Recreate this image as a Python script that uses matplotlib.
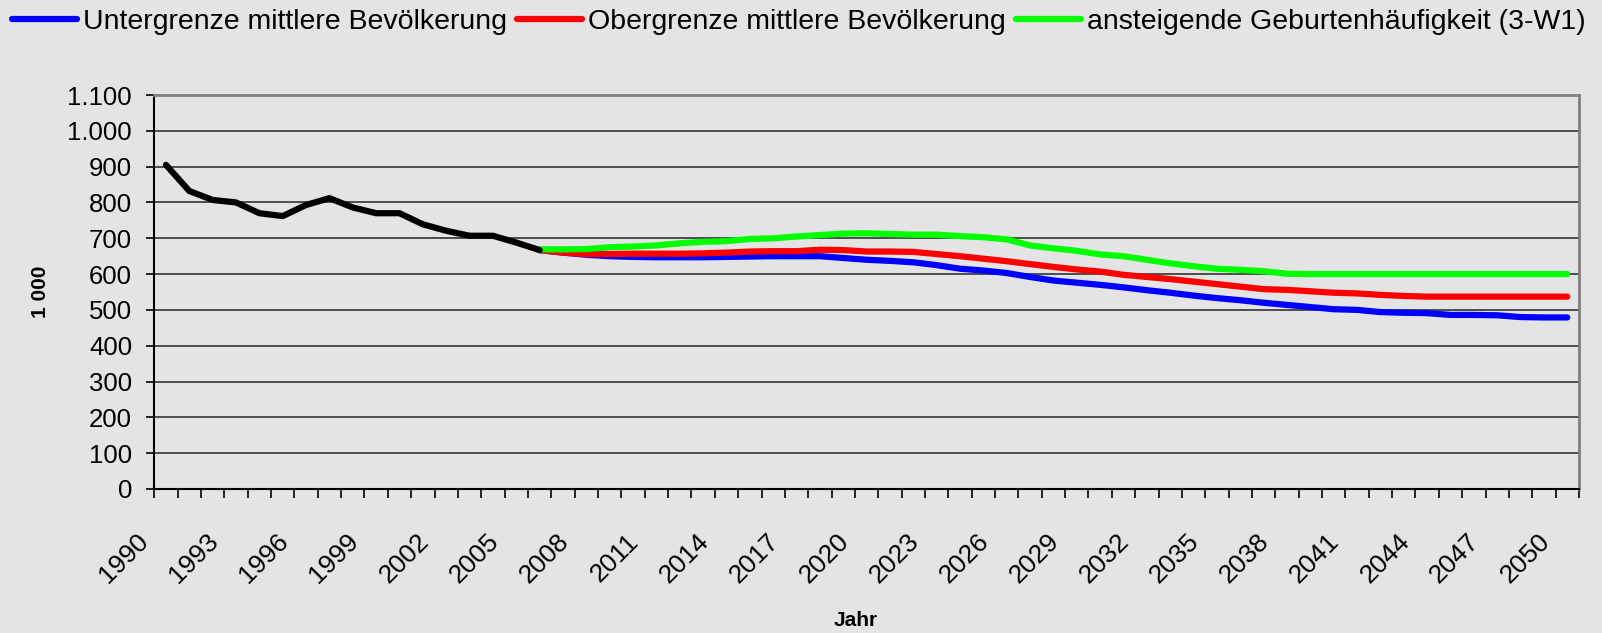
import matplotlib.pyplot as plt
import matplotlib.transforms as mtransforms
import numpy as np

plt.rcParams['font.family'] = ['Liberation Sans', 'DejaVu Sans']

# categories
years = list(range(1990, 2051))
hist_years = years[:17]          # 1990-2006
proj_years = years[16:]          # 2006-2050

# values in 1000
hist = [905, 832, 807, 800, 770, 762, 793, 812, 786, 770, 770, 739, 721,
        707, 707, 688, 667]

lower = [667, 660, 654, 650, 648, 647, 647, 647, 648, 649, 650, 650, 650,
         645, 640, 637, 633, 625, 615, 610, 603, 592, 582, 576, 570, 563,
         555, 548, 540, 533, 527, 520, 514, 508, 502, 500, 494, 492, 491,
         486, 486, 485, 480, 479, 479]

upper = [667, 660, 656, 656, 657, 657, 657, 658, 660, 663, 664, 664, 668,
         667, 663, 663, 662, 656, 650, 643, 636, 628, 620, 613, 607, 598,
         592, 586, 579, 572, 565, 558, 556, 552, 548, 546, 542, 539, 537,
         537, 537, 537, 537, 537, 537]

rising = [669, 669, 670, 675, 677, 680, 686, 690, 692, 698, 700, 705, 709,
          713, 714, 712, 710, 710, 706, 703, 697, 680, 672, 665, 655, 650,
          640, 630, 622, 615, 612, 608, 601, 600, 600, 600, 600, 600, 600,
          600, 600, 600, 600, 600, 600]

series_names = ['Untergrenze mittlere Bevölkerung',
                'Obergrenze mittlere Bevölkerung',
                'ansteigende Geburtenhäufigkeit (3-W1)']
series_colors = ['#0000ff', '#ff0000', '#00ff00']

y_ticks = list(range(0, 1101, 100))
y_labels = [f"{v:,}".replace(',', '.') for v in y_ticks]

bg = '#e4e4e4'
fig = plt.figure(figsize=(16.02, 6.33), dpi=100, facecolor=bg)
ax = fig.add_axes([0.0963, 0.2275, 0.8893, 0.6224], facecolor=bg)

lines = []
for vals, name, col in zip([lower, upper, rising], series_names, series_colors):
    ln, = ax.plot(proj_years, vals, color=col, lw=4.5, label=name,
                  solid_capstyle='round', solid_joinstyle='round', zorder=3)
    lines.append(ln)
ax.plot(hist_years, hist, color='black', lw=4.5, solid_capstyle='round',
        solid_joinstyle='round', zorder=4)

ax.set_xlim(1989.5, 2050.5)
ax.set_ylim(0, 1100)

ax.set_yticks(y_ticks)
ax.set_yticklabels(y_labels)
ax.yaxis.grid(True, color='#333333', lw=1.2)
ax.set_axisbelow(True)
ax.tick_params(axis='y', length=6, width=1.2, pad=10, labelsize=18.5)

ax.set_xticks(years[::3])
ax.set_xticklabels([str(y) for y in years[::3]], rotation=45, ha='right',
                   va='top', fontsize=19)
ax.set_xticks(np.arange(1989.5, 2051, 1), minor=True)
ax.tick_params(axis='x', which='major', length=0, pad=29)
ax.tick_params(axis='x', which='minor', length=6.5, width=1.2)
shift = mtransforms.ScaledTranslation(-0.13, 0, fig.dpi_scale_trans)
for lbl in ax.get_xticklabels():
    lbl.set_transform(lbl.get_transform() + shift)

for side in ['left', 'bottom']:
    ax.spines[side].set_color('black')
    ax.spines[side].set_linewidth(1.5)
for side in ['top', 'right']:
    ax.spines[side].set_color('#808080')
    ax.spines[side].set_linewidth(2)

fig.text(40 / 1602, 1 - 292 / 633, '1 000', rotation=90, fontweight='bold',
         fontsize=15, ha='center', va='center')
fig.text(856 / 1602, 1 - 620 / 633, 'Jahr', fontweight='bold',
         fontsize=15, ha='center', va='center')

leg = fig.legend(handles=lines, loc='center left',
                 bbox_to_anchor=(0.0073, 1 - 22 / 633), ncol=3, frameon=False,
                 fontsize=20.5, handlelength=2.3, handletextpad=0.2,
                 columnspacing=0.35, borderaxespad=0, borderpad=0)
for h in leg.legend_handles:
    h.set_linewidth(4.5)

fig.savefig('out.png', dpi=100, facecolor=bg)
